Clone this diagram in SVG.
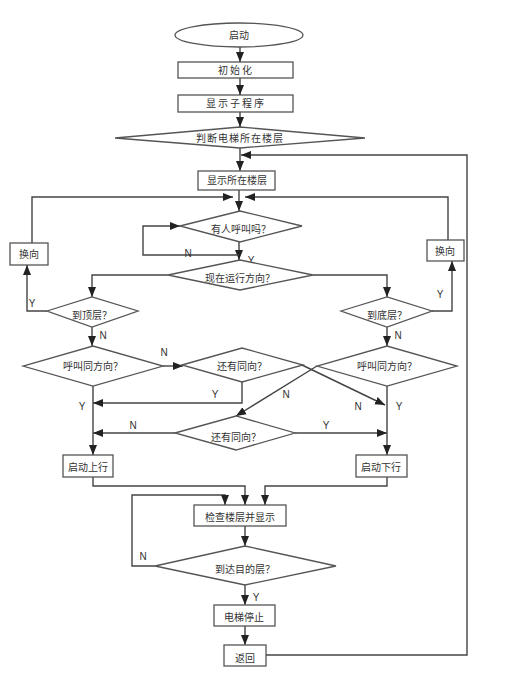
<svg xmlns="http://www.w3.org/2000/svg" width="514" height="673" viewBox="0 0 514 673">
<style>
.s{fill:#fff;stroke:#555;stroke-width:1.3}
.c{fill:none;stroke:#444;stroke-width:1.4}
.t{font-family:"Noto Sans CJK SC","Liberation Sans",sans-serif;font-size:10px;fill:#333;text-anchor:middle}
.l{font-family:"Liberation Sans",sans-serif;font-size:10px;fill:#333;text-anchor:middle}
</style>
<defs>
<marker id="a" markerUnits="userSpaceOnUse" markerWidth="10" markerHeight="10" viewBox="0 0 10 10" refX="10" refY="5" orient="auto">
<path d="M0,1 L10,5 L0,9 Z" fill="#222"/>
</marker>
</defs>
<rect width="514" height="673" fill="#fff"/>
<g id="connectors">
<path class="c" d="M240,47 V62" marker-end="url(#a)"/>
<path class="c" d="M240,78 V95" marker-end="url(#a)"/>
<path class="c" d="M240,112 V127" marker-end="url(#a)"/>
<path class="c" d="M240,148 V171" marker-end="url(#a)"/>
<path class="c" d="M266,655 H467 V155 H241" marker-end="url(#a)"/>
<path class="c" d="M239,190 V211" marker-end="url(#a)"/>
<path class="c" d="M32,243 V197 H233" marker-end="url(#a)"/>
<path class="c" d="M448,240 V197 H245" marker-end="url(#a)"/>
<path class="c" d="M239,242 V260" marker-end="url(#a)"/>
<path class="c" d="M239,255 H143 V226 H180" marker-end="url(#a)"/>
<path class="c" d="M168,275 H92 V297" marker-end="url(#a)"/>
<path class="c" d="M313,275 H387 V297" marker-end="url(#a)"/>
<path class="c" d="M47,311 H27 V265" marker-end="url(#a)"/>
<path class="c" d="M432,311 H452 V261" marker-end="url(#a)"/>
<path class="c" d="M92,327 V346" marker-end="url(#a)"/>
<path class="c" d="M387,327 V346" marker-end="url(#a)"/>
<path class="c" d="M163,366 H183" marker-end="url(#a)"/>
<path class="c" d="M242,382 V403 H93" marker-end="url(#a)"/>
<path class="c" d="M302,365 L385,405" marker-end="url(#a)"/>
<path class="c" d="M317,366 L236,416" marker-end="url(#a)"/>
<path class="c" d="M295,433 H387" marker-end="url(#a)"/>
<path class="c" d="M175,433 H93" marker-end="url(#a)"/>
<path class="c" d="M93,386 V455" marker-end="url(#a)"/>
<path class="c" d="M387,386 V455" marker-end="url(#a)"/>
<path class="c" d="M93,477 V486 H245 V505" marker-end="url(#a)"/>
<path class="c" d="M387,477 V486 H265 V505" marker-end="url(#a)"/>
<path class="c" d="M155,566 H132 V495 H225 V505" marker-end="url(#a)"/>
<path class="c" d="M245,526 V546" marker-end="url(#a)"/>
<path class="c" d="M245,585 V605" marker-end="url(#a)"/>
<path class="c" d="M245,626 V645" marker-end="url(#a)"/>
</g>
<g id="labels">
<text class="l" x="188" y="257">N</text>
<text class="l" x="251" y="264">Y</text>
<text class="l" x="32" y="307">Y</text>
<text class="l" x="440" y="298">Y</text>
<text class="l" x="103" y="339">N</text>
<text class="l" x="398" y="339">N</text>
<text class="l" x="164" y="356">N</text>
<text class="l" x="215" y="398">Y</text>
<text class="l" x="82" y="410">Y</text>
<text class="l" x="286" y="398">N</text>
<text class="l" x="358" y="410">N</text>
<text class="l" x="399" y="410">Y</text>
<text class="l" x="326" y="429">Y</text>
<text class="l" x="133" y="429">N</text>
<text class="l" x="143" y="560">N</text>
<text class="l" x="256" y="601">Y</text>
</g>
<g id="start"><ellipse class="s" cx="239" cy="35" rx="64" ry="12"/><text class="t" x="239" y="39">启动</text></g>
<g id="init"><rect class="s" x="178" y="62" width="115" height="16"/><text class="t" x="236" y="74" letter-spacing="2">初始化</text></g>
<g id="display-sub"><rect class="s" x="178" y="95" width="115" height="17"/><text class="t" x="236" y="107" letter-spacing="2">显示子程序</text></g>
<g id="judge-floor"><polygon class="s" points="115,138 240,127 365,138 240,148"/><text class="t" x="240" y="142" letter-spacing="1">判断电梯所在楼层</text></g>
<g id="show-floor"><rect class="s" x="198" y="171" width="77" height="19"/><text class="t" x="237" y="184">显示所在楼层</text></g>
<g id="turn-left"><rect class="s" x="10" y="243" width="38" height="22"/><text class="t" x="29" y="258">换向</text></g>
<g id="turn-right"><rect class="s" x="427" y="240" width="37" height="21"/><text class="t" x="445" y="255">换向</text></g>
<g id="anyone-call"><polygon class="s" points="180,226 240,211 302,226 240,242"/><text class="t" x="241" y="233">有人呼叫吗？</text></g>
<g id="direction"><polygon class="s" points="168,275 240,260 313,275 240,290"/><text class="t" x="240" y="282">现在运行方向？</text></g>
<g id="top-floor"><polygon class="s" points="47,311 92,297 138,311 92,327"/><text class="t" x="92" y="319">到顶层？</text></g>
<g id="bottom-floor"><polygon class="s" points="341,311 387,297 432,311 387,327"/><text class="t" x="387" y="319">到底层？</text></g>
<g id="call-same-left"><polygon class="s" points="23,366 93,346 163,366 93,386"/><text class="t" x="93" y="370">呼叫同方向？</text></g>
<g id="still-same-up"><polygon class="s" points="182,365 242,348 303,365 242,382"/><text class="t" x="242" y="370">还有同向？</text></g>
<g id="call-same-right"><polygon class="s" points="317,366 387,346 457,366 387,386"/><text class="t" x="387" y="370">呼叫同方向？</text></g>
<g id="still-same-down"><polygon class="s" points="175,433 236,416 295,433 236,450"/><text class="t" x="236" y="441">还有同向？</text></g>
<g id="start-up"><rect class="s" x="63" y="455" width="50" height="22"/><text class="t" x="88" y="471">启动上行</text></g>
<g id="start-down"><rect class="s" x="356" y="455" width="51" height="22"/><text class="t" x="381" y="471">启动下行</text></g>
<g id="check-floor"><rect class="s" x="194" y="505" width="92" height="21"/><text class="t" x="240" y="521">检查楼层并显示</text></g>
<g id="arrive"><polygon class="s" points="155,566 245,546 336,566 245,585"/><text class="t" x="245" y="573">到达目的层？</text></g>
<g id="stop"><rect class="s" x="214" y="605" width="61" height="21"/><text class="t" x="244" y="621">电梯停止</text></g>
<g id="return"><rect class="s" x="224" y="645" width="42" height="21"/><text class="t" x="245" y="662">返回</text></g>
</svg>
